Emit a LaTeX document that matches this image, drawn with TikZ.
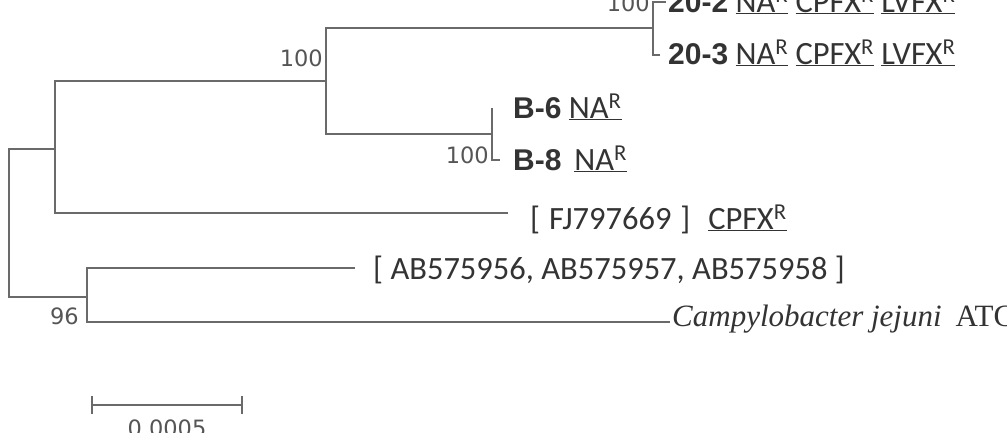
\documentclass[tikz,border=0pt]{standalone}
\usepackage{fontspec}
\setmainfont{Carlito}
\newfontfamily\strainfont{Liberation Sans}
\newfontfamily\speciesfont{Liberation Serif}
\newfontfamily\bootfont{DejaVu Sans}
\definecolor{branchgray}{HTML}{6A6A6A}
\definecolor{textgray}{HTML}{333333}
\definecolor{bootgray}{HTML}{555555}
\newcommand{\resist}[1]{\underline{#1\textsuperscript{R}}}
\newcommand{\strainname}[1]{{\strainfont\bfseries\fontsize{30}{34}\selectfont #1}}

\begin{document}
\begin{tikzpicture}[x=1pt,y=-1pt,
  branch/.style={draw=branchgray,line width=1.5pt},
  boot/.style={anchor=base east,inner sep=0pt,text=bootgray,font=\bootfont\fontsize{22.5}{26}\selectfont},
  strain/.style={anchor=base west,inner sep=0pt,text=textgray,font=\fontsize{32.5}{38}\selectfont},
  ]
  \clip (0,0) rectangle (1007,432);
  % inner nodes
  \coordinate (root) at (9,223);
  \coordinate (A) at (55,149);
  \coordinate (X) at (326,81);
  \coordinate (Y) at (653,28);
  \coordinate (Z) at (492,134);
  \coordinate (B) at (87,297);
  % tips
  \coordinate (t202) at (666,2);
  \coordinate (t203) at (660,55);
  \coordinate (tb6) at (492,108);
  \coordinate (tb8) at (500,160);
  \coordinate (tfj) at (508,213);
  \coordinate (tab) at (355,268);
  \coordinate (tcj) at (670,322);
  % branches
  \draw[branch] (root) |- (A);
  \draw[branch] (root) |- (B);
  \draw[branch] (A) |- (X);
  \draw[branch] (A) |- (tfj);
  \draw[branch] (X) |- (Y);
  \draw[branch] (X) |- (Z);
  \draw[branch] (Y) |- (t202);
  \draw[branch] (Y) |- (t203);
  \draw[branch] (Z) |- (tb6);
  \draw[branch] (Z) |- (tb8);
  \draw[branch] (B) |- (tab);
  \draw[branch] (B) |- (tcj);
  % bootstrap values
  \node[boot] (bX) at (323,66) {100};
  \node[boot] (bY) at (650,11) {100};
  \node[boot] (bZ) at (489,163) {100};
  \node[boot] (bB) at (79,324) {96};
  % taxa
  \node[strain] (s202) at (668,12) {\strainname{20-2} \resist{NA} \resist{CPFX} \resist{LVFX}};
  \node[strain] (s203) at (668,64) {\strainname{20-3} \resist{NA} \resist{CPFX} \resist{LVFX}};
  \node[strain] (sb6) at (513,118) {\strainname{B-6} \resist{NA}};
  \node[strain] (sb8) at (513,170) {\strainname{B-8} \,\resist{NA}};
  \node[strain] (sfj) at (530,229) {[\hspace{1.5pt} FJ797669 \hspace{1.5pt}]\hspace{18pt}\resist{CPFX}};
  \node[strain] (sab) at (373,279) {[ AB575956, AB575957, AB575958 ]};
  \node[strain,font=\speciesfont\fontsize{31}{36}\selectfont] (scj) at (672,326) {\textit{Campylobacter jejuni}\hspace{14pt}ATC};
  % scale bar
  \coordinate (sbl) at (92,405);
  \coordinate (sbr) at (242,405);
  \draw[branch] (sbl) -- (sbr);
  \draw[branch] ([yshift=9pt]sbl) -- ([yshift=-9pt]sbl);
  \draw[branch] ([yshift=9pt]sbr) -- ([yshift=-9pt]sbr);
  \node[boot,anchor=base] (sblab) at (167,436) {0.0005};
\end{tikzpicture}
\end{document}
